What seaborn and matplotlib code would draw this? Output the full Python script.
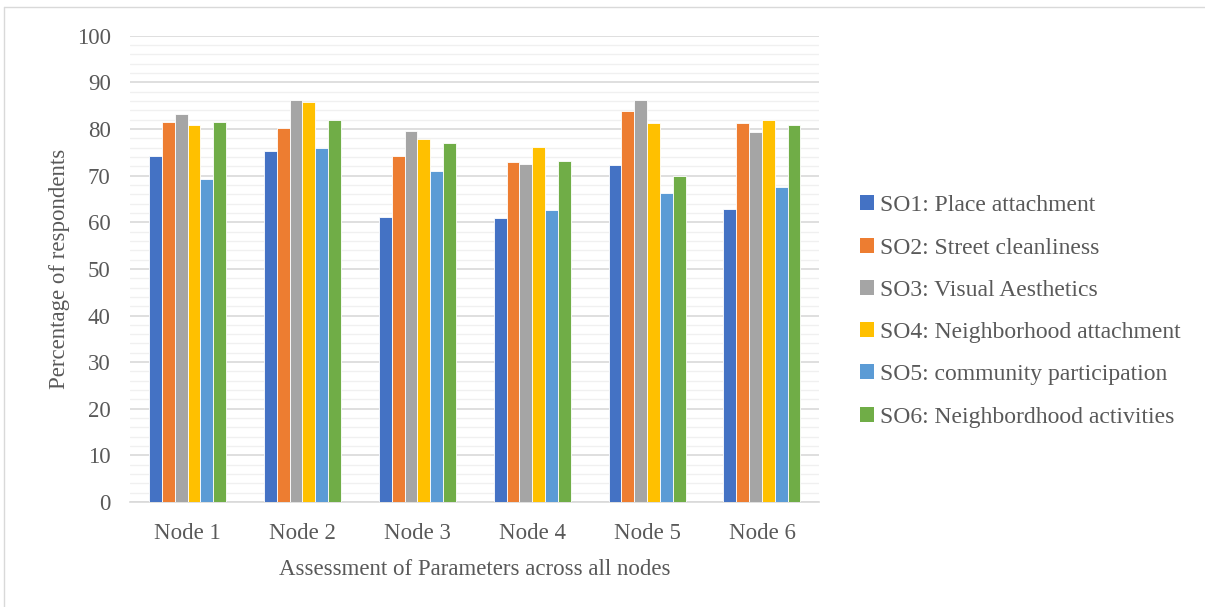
import matplotlib
matplotlib.use("Agg")
import matplotlib.pyplot as plt
from matplotlib.lines import Line2D
from matplotlib.patches import Patch
from matplotlib.ticker import MultipleLocator
import pandas as pd
import seaborn as sns

nodes = ["Node 1", "Node 2", "Node 3", "Node 4", "Node 5", "Node 6"]
series = [
    "SO1: Place attachment",
    "SO2: Street cleanliness",
    "SO3: Visual Aesthetics",
    "SO4: Neighborhood attachment",
    "SO5: community participation",
    "SO6: Neighbordhood activities",
]
so1 = [74.3, 75.3, 61.2, 60.9, 72.2, 62.9]
so2 = [81.5, 80.3, 74.2, 73.0, 83.9, 81.3]
so3 = [83.3, 86.3, 79.6, 72.6, 86.3, 79.3]
so4 = [80.9, 85.9, 77.8, 76.2, 81.3, 82.0]
so5 = [69.2, 75.9, 70.9, 62.6, 66.2, 67.5]
so6 = [81.5, 81.9, 77.0, 73.2, 70.0, 80.9]

colors = ["#4472C4", "#ED7D31", "#A5A5A5", "#FFC000", "#5B9BD5", "#70AD47"]

rows = []
for name, vals in zip(series, [so1, so2, so3, so4, so5, so6]):
    for node, v in zip(nodes, vals):
        rows.append({"Node": node, "Series": name, "Value": v})
df = pd.DataFrame(rows)

sns.set_theme(style="white")
plt.rcParams["font.family"] = ["Liberation Serif", "DejaVu Serif"]
text_color = "#595959"

fig = plt.figure(figsize=(12.05, 6.07), dpi=100)
ax = fig.add_axes([0.108, 0.173, 0.572, 0.768])

sns.barplot(data=df, x="Node", y="Value", hue="Series", order=nodes,
            hue_order=series, palette=colors, width=0.67, gap=0,
            edgecolor="white", linewidth=0.6, saturation=1,
            errorbar=None, ax=ax, zorder=3, legend=False)

ax.set_ylim(0, 100)
ax.set_xlim(-0.5, len(nodes) - 0.5)
ax.yaxis.set_major_locator(MultipleLocator(10))
ax.yaxis.set_minor_locator(MultipleLocator(2))
ax.grid(axis="y", which="major", color="#d9d9d9", linewidth=1.2, zorder=0)
ax.grid(axis="y", which="minor", color="#f0f0f0", linewidth=1.0, zorder=0)
ax.set_axisbelow(True)
for s in ["top", "right", "left"]:
    ax.spines[s].set_visible(False)
ax.spines["bottom"].set_color("#d9d9d9")
ax.spines["bottom"].set_linewidth(1.2)
ax.tick_params(axis="both", which="both", length=0, labelsize=16.5,
               labelcolor=text_color)
ax.tick_params(axis="x", pad=15)
ax.tick_params(axis="y", pad=14)
ax.set_xlabel("Assessment of Parameters across all nodes", fontsize=16.5,
              color=text_color, labelpad=11)
ax.set_ylabel("Percentage of respondents", fontsize=16.5, color=text_color,
              labelpad=5)

handles = [Patch(facecolor=c, edgecolor="none") for c in colors]
fig.legend(handles, series, loc="center left", bbox_to_anchor=(0.696, 0.487),
           frameon=False, fontsize=17, labelcolor=text_color,
           handlelength=0.6, handleheight=0.6, handletextpad=0.25,
           labelspacing=0.90)

# chart-area border (top and left edges)
fig.add_artist(Line2D([0.003, 1.0], [0.988, 0.988], transform=fig.transFigure,
                      color="#d9d9d9", linewidth=1.0))
fig.add_artist(Line2D([0.003, 0.003], [0.0, 0.988], transform=fig.transFigure,
                      color="#d9d9d9", linewidth=1.0))

fig.savefig("out.png", dpi=100)
